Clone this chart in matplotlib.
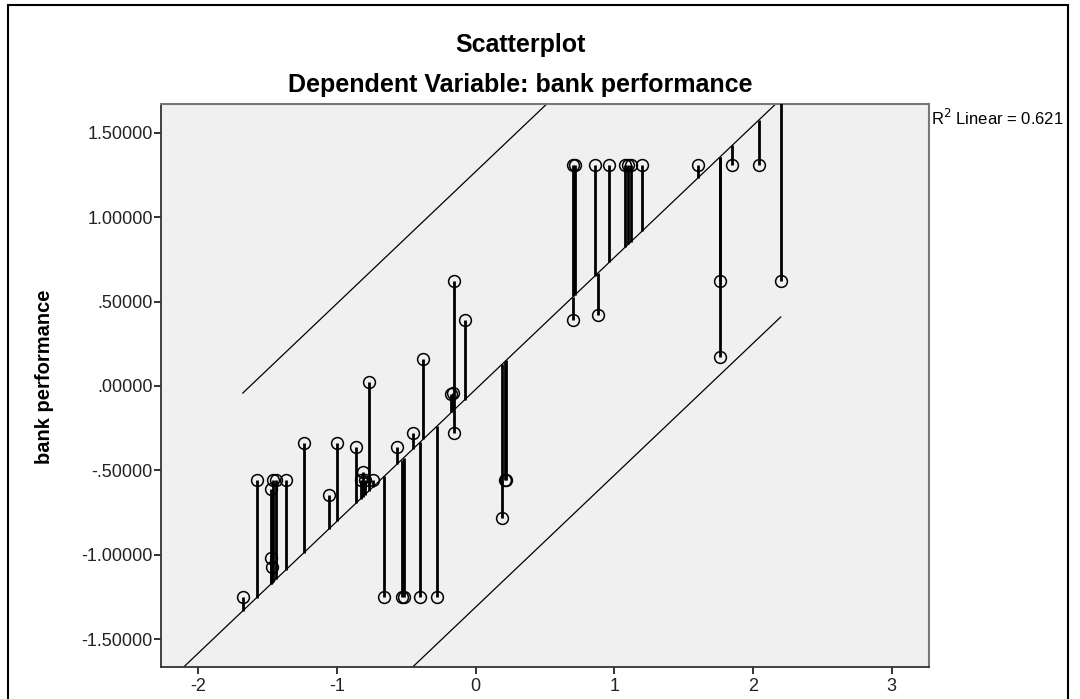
import matplotlib
matplotlib.use("Agg")
import matplotlib.pyplot as plt
import numpy as np
from matplotlib.patches import Rectangle

plt.rcParams["font.family"] = ["Liberation Sans", "DejaVu Sans"]
plt.rcParams["axes.unicode_minus"] = False

# standardized predicted value (x) vs. bank performance (y)
pred = [-1.68, -1.58, -1.48, -1.48, -1.47, -1.46, -1.44, -1.37, -1.24, -1.06,
        -1.00, -0.86, -0.815, -0.83, -0.80, -0.77, -0.74, -0.66, -0.57, -0.535,
        -0.52, -0.45, -0.40, -0.38, -0.28, -0.175, -0.165, -0.16, -0.16, -0.08,
        0.19, 0.21, 0.22, 0.70, 0.705, 0.715, 0.86, 0.88, 0.965, 1.08,
        1.10, 1.12, 1.20, 1.60, 1.76, 1.76, 1.85, 2.04, 2.20]
perf = [-1.25, -0.56, -0.61, -1.02, -1.07, -0.56, -0.56, -0.56, -0.34, -0.645,
        -0.34, -0.36, -0.51, -0.56, -0.56, 0.025, -0.56, -1.25, -0.36, -1.25,
        -1.25, -0.28, -1.25, 0.16, -1.25, -0.05, -0.04, -0.28, 0.62, 0.39,
        -0.785, -0.56, -0.56, 0.39, 1.31, 1.31, 1.31, 0.42, 1.31, 1.31,
        1.31, 1.31, 1.31, 1.31, 0.62, 0.17, 1.31, 1.31, 0.62]

fit_slope = 0.781
fit_icept = -0.02
pi_offset = 1.29
r2_text = "R$^2$ Linear = 0.621"

xticks = [-2, -1, 0, 1, 2, 3]
yticks = [-1.5, -1.0, -0.5, 0.0, 0.5, 1.0, 1.5]
ytick_labels = ["-1.50000", "-1.00000", "-.50000", ".00000", ".50000", "1.00000", "1.50000"]

x = np.array(pred)
y = np.array(perf)

fig = plt.figure(figsize=(10.8, 6.99), dpi=100)
ax = fig.add_axes([0.1491, 0.0458, 0.7111, 0.8054])
ax.set_facecolor("#f0f0f0")
ax.set_xlim(-2.27, 3.27)
ax.set_ylim(-1.665, 1.67)

# fit line across the whole plot
xx = np.array([-2.27, 3.27])
ax.plot(xx, fit_slope * xx + fit_icept, color="black", lw=0.9, zorder=2)

# prediction interval lines over the data range
xr = np.array([x.min(), x.max()])
ax.plot(xr, fit_slope * xr + fit_icept + pi_offset, color="black", lw=0.9, zorder=2)
ax.plot(xr, fit_slope * xr + fit_icept - pi_offset, color="black", lw=0.9, zorder=2)

# residual drop lines
ax.vlines(x, y, fit_slope * x + fit_icept, color="black", lw=2.0, zorder=3)
ax.plot(x, y, "o", ms=8.5, mfc="none", mec="black", mew=1.1, zorder=4)

ax.set_xticks(xticks)
ax.set_yticks(yticks)
ax.set_yticklabels(ytick_labels)
ax.tick_params(direction="out", length=5, width=1.3, labelsize=13,
               colors="#222222")
ax.tick_params(axis="x", pad=3)
ax.tick_params(axis="y", pad=1)
for side in ["left", "bottom"]:
    ax.spines[side].set_color("#333333")
    ax.spines[side].set_linewidth(1.3)
for side in ["top", "right"]:
    ax.spines[side].set_color("#777777")
    ax.spines[side].set_linewidth(1.5)

fig.text(45 / 1080, 0.461, "bank performance", rotation=90, ha="center",
         va="center", fontsize=14.5, fontweight="bold")

fig.text(0.4815, 0.936, "Scatterplot", ha="center", va="center",
         fontsize=18, fontweight="bold")
fig.text(0.4815, 0.878, "Dependent Variable: bank performance", ha="center",
         va="center", fontsize=18, fontweight="bold")
fig.text(931 / 1080, 1 - 118 / 699, r2_text, ha="left", va="center", fontsize=12)

# outer frame (bottom edge falls outside the image)
fig.patches.append(Rectangle((8 / 1080, -0.1), 1060 / 1080, 1.1 - 5 / 699,
                             fill=False, ec="black", lw=1.5,
                             transform=fig.transFigure, figure=fig))

fig.savefig("out.png", dpi=100)
